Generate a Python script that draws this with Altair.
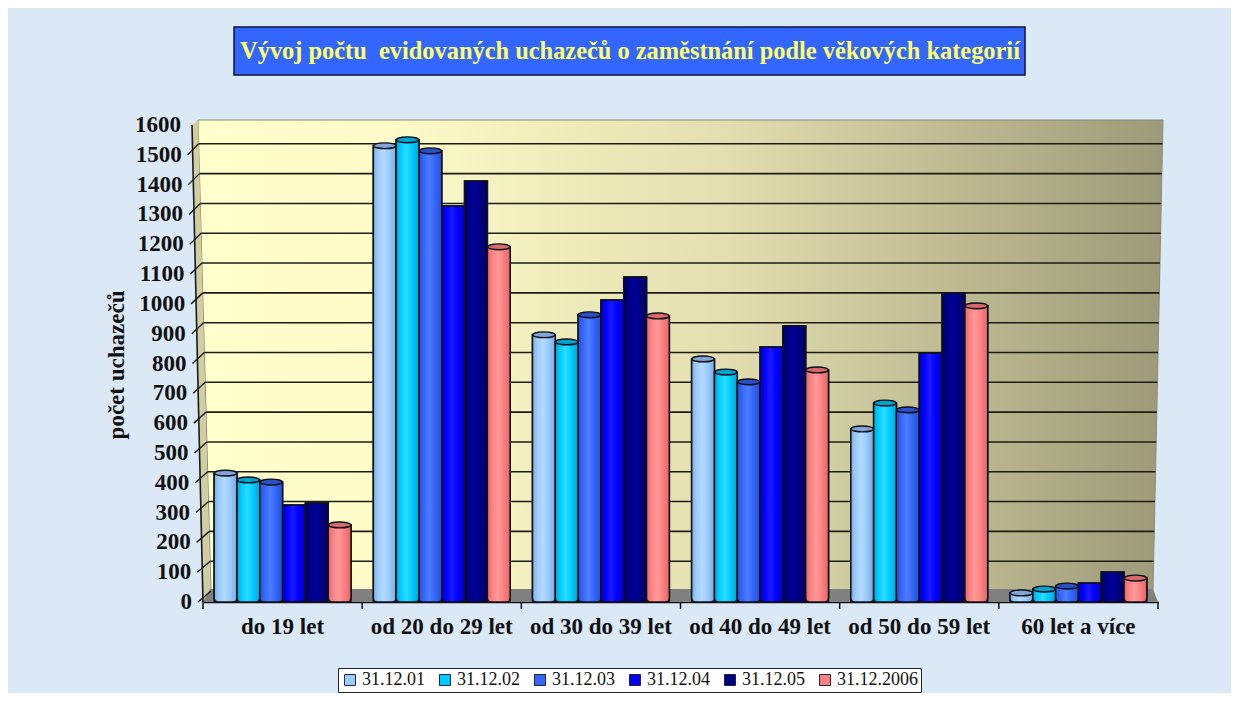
import altair as alt
import pandas as pd

categories = ["do 19 let", "od 20 do 29 let", "od 30 do 39 let", "od 40 do 49 let", "od 50 do 59 let", "60 let a více"]
series = ["31.12.01", "31.12.02", "31.12.03", "31.12.04", "31.12.05", "31.12.2006"]
s01 = [419, 1517, 883, 802, 567, 17]
s02 = [396, 1537, 859, 758, 654, 30]
s03 = [389, 1500, 950, 725, 631, 40]
s04 = [312, 1315, 1000, 842, 822, 50]
s05 = [319, 1399, 1077, 913, 1023, 87]
s06 = [245, 1178, 946, 765, 980, 67]
values = [s01, s02, s03, s04, s05, s06]
colors = ["#99ccff", "#00ccff", "#3366ff", "#0000ff", "#000080", "#ff8080"]
light = ["#b4d9ff", "#2bdcff", "#4d7cff", "#1a1aff", "#00009a", "#ff9a9a"]
dark = ["#7fa8d8", "#00a4d0", "#2a50c8", "#0000c8", "#000060", "#d86a6a"]
capped = ["31.12.01", "31.12.02", "31.12.03", "31.12.2006"]
yticks = list(range(0, 1700, 100))
title_text = "Vývoj počtu\u00a0 evidovaných uchazečů o zaměstnání podle věkových kategorií"
ytitle = "počet uchazečů"
FONT = "Liberation Serif"

W, H = 955, 477
X0, Y0 = 203, 125  # page position of the plot origin


def vy(py):
    return (Y0 + H - py) * 1600 / H


def vx(px):
    return px - X0


def wall_left(py):
    return 198 + (py - 120) * 13 / 471


def wall_right(py):
    return 1163 - (py - 120) * 10 / 471


def axis_x(py):
    return 192 + (py - 125) * 11 / 477


rows = []
for s, vals in zip(series, values):
    for c, v in zip(categories, vals):
        rows.append({"cat": c, "serie": s, "v": v})
bars = pd.DataFrame(rows)

xd = alt.Scale(domain=[0, W])
yd = alt.Scale(domain=[0, 1600], nice=False, zero=False)
xq = alt.X("a:Q", scale=xd, axis=None)
yq = alt.Y("b:Q", scale=yd, axis=None)

# back wall
wall_df = pd.DataFrame({"b": [vy(120), vy(591)], "a": [vx(wall_left(120)), vx(wall_left(591))],
                        "a2": [vx(wall_right(120)), vx(wall_right(591))]})
wall = alt.Chart(wall_df).mark_area(orient="horizontal", stroke="#8a8a78", strokeWidth=1, fill=alt.Gradient(
    gradient="linear", x1=0, x2=1, y1=0, y2=0,
    stops=[alt.GradientStop(color="#ffffcc", offset=0), alt.GradientStop(color="#fdfbc8", offset=0.2),
           alt.GradientStop(color="#e2deb0", offset=0.55), alt.GradientStop(color="#9c9a78", offset=1)])
).encode(y=yq, x=xq, x2="a2:Q")

# side wall
side_y = [120, 125, 589, 602]
side_df = pd.DataFrame({"b": [vy(p) for p in side_y],
                        "a": [vx(198), vx(192), vx(axis_x(589)), vx(203)],
                        "a2": [vx(198), vx(wall_left(125)), vx(210), vx(203)]})
side = alt.Chart(side_df).mark_area(orient="horizontal", fill="#d0cea0").encode(y=yq, x=xq, x2="a2:Q")

# floor
floor_df = pd.DataFrame({"b": [vy(589), vy(602)], "a": [vx(210), vx(203)], "a2": [vx(1153), vx(1158)]})
floor = alt.Chart(floor_df).mark_area(orient="horizontal", fill="#808080").encode(y=yq, x=xq, x2="a2:Q")

# gridlines on the back wall
grid_df = pd.DataFrame([{"b": t, "a": vx(wall_left(Y0 + H - t * H / 1600 - 11)),
                         "a2": vx(wall_right(Y0 + H - t * H / 1600 - 11))} for t in yticks[1:-1]])
grid = alt.Chart(grid_df).mark_rule(color="#1c1c14", strokeWidth=1.6, yOffset=-11).encode(y=yq, x=xq, x2="a2:Q")

# slanted value axis, ticks and labels
ax_df = pd.DataFrame({"a": [vx(192)], "a2": [vx(203)], "b": [1600], "b2": [0]})
axis_line = alt.Chart(ax_df).mark_rule(color="#1a1a1a", strokeWidth=1.6).encode(x=xq, x2="a2:Q", y=yq, y2="b2:Q")
tick_rows = []
for t in yticks:
    py = Y0 + H - t * H / 1600
    tick_rows.append({"a": vx(axis_x(py) - 5), "a2": vx(wall_left(py - 11)), "b": t, "b2": t + 11 * 1600 / H,
                      "lab": vx(axis_x(py) - 11), "t": str(t)})
tick_df = pd.DataFrame(tick_rows)
ticks = alt.Chart(tick_df[tick_df.t != "1600"]).mark_rule(color="#1a1a1a", strokeWidth=1.4).encode(x=xq, x2="a2:Q", y=yq, y2="b2:Q")
ylabels = alt.Chart(tick_df).mark_text(font=FONT, fontWeight="bold", fontSize=23, align="right", baseline="middle",
                                       color="#111111").encode(
    x=alt.X("lab:Q", scale=xd, axis=None), y=yq, text="t:N")

# category boundary ticks
cat_tick_df = pd.DataFrame({"a": [i * W / len(categories) for i in range(len(categories) + 1)]})
cat_tick_df["b"] = 0
cat_tick_df["b2"] = -7 * 1600 / H
cat_ticks = alt.Chart(cat_tick_df).mark_rule(color="#111111", strokeWidth=1.5).encode(x=xq, y=yq, y2="b2:Q")

decor = alt.layer(wall, side, floor, grid, axis_line, ticks, ylabels, cat_ticks)

# bars
xn = alt.X("cat:N", sort=categories, title=None,
           scale=alt.Scale(domain=categories, paddingInner=0.14, paddingOuter=0.07),
           axis=alt.Axis(labelAngle=0, labelFont=FONT, labelFontWeight="bold", labelFontSize=23, labelColor="#111111",
                         labelPadding=13, ticks=False,
                         domainColor="#111111", domainWidth=1.6, grid=False))
xo = alt.XOffset("serie:N", sort=series, scale=alt.Scale(domain=series, paddingInner=0, paddingOuter=0))
yb = alt.Y("v:Q", scale=yd, axis=None, stack=None)

base = alt.Chart(bars).mark_bar(yOffset=-4, y2Offset=-4, stroke="#101018", strokeWidth=1.5).encode(
    x=xn, xOffset=xo, y=yb,
    color=alt.Color("serie:N", sort=series, scale=alt.Scale(domain=series, range=colors),
                    legend=alt.Legend(title=None, orient="none", legendX=135, legendY=543, direction="horizontal",
                                      columns=6, fillColor="white", strokeColor="#222222", padding=3,
                                      symbolType="square", symbolSize=120, symbolStrokeColor="#222233",
                                      symbolStrokeWidth=1, labelFont=FONT, labelFontSize=18, labelColor="#111111",
                                      columnPadding=11, labelOffset=3)))

layers = [base]
for s, c, l, d in zip(series, colors, light, dark):
    grad = alt.Gradient(gradient="linear", x1=0, x2=1, y1=0, y2=0,
                        stops=[alt.GradientStop(color=d, offset=0), alt.GradientStop(color=c, offset=0.2),
                               alt.GradientStop(color=l, offset=0.45), alt.GradientStop(color=c, offset=0.7),
                               alt.GradientStop(color=d, offset=1)])
    layers.append(alt.Chart(bars).transform_filter(alt.datum.serie == s).mark_bar(
        yOffset=-4, y2Offset=-4, fill=grad, stroke="#101018", strokeWidth=1.5,
        cornerRadiusBottomLeft=4, cornerRadiusBottomRight=4).encode(x=xn, xOffset=xo, y=yb))
    if s in capped:
        layers.append(alt.Chart(bars).transform_filter(alt.datum.serie == s).mark_point(
            shape="M-1,0A1,0.26,0,1,1,1,0A1,0.26,0,1,1,-1,0Z", filled=True, size=500, fill=d, stroke="#101018",
            strokeWidth=1.4, opacity=1, yOffset=-4).encode(x=xn, xOffset=xo, y=yb))
bar_layer = alt.layer(*layers)

# title box and axis title
one = pd.DataFrame({"k": [0]})
box = alt.Chart(one).mark_rect(fill="#3366ff", stroke="#10103a", strokeWidth=1.5).encode(
    x=alt.value(234 - X0), x2=alt.value(1025 - X0), y=alt.value(27 - Y0), y2=alt.value(75 - Y0))
title = alt.Chart(one).mark_text(text=title_text, font=FONT, fontWeight="bold", fontSize=24.4, color="#ffff66",
                                 align="center", baseline="middle").encode(
    x=alt.value(630 - X0), y=alt.value(52 - Y0))
yt = alt.Chart(one).mark_text(text=ytitle, font=FONT, fontWeight="bold", fontSize=23, color="#111111", angle=270,
                              align="center", baseline="middle").encode(
    x=alt.value(117 - X0), y=alt.value(365 - Y0))

chart = alt.layer(decor, bar_layer, box, title, yt).resolve_scale(x="independent").properties(
    width=W, height=H, background="#dbe8f6",
    padding={"left": X0 - 8, "top": Y0 - 8, "right": 73, "bottom": 91},
    autosize=alt.AutoSizeParams(type="none")
).configure_view(stroke=None)

chart.save("out.html", embed_options={"renderer": "svg", "actions": False})
